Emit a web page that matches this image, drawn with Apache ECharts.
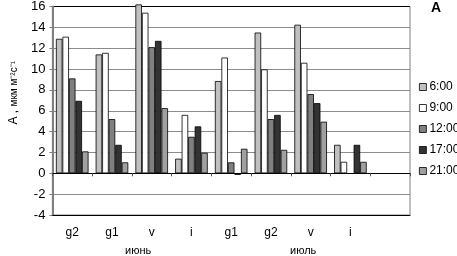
<!DOCTYPE html>
<html>
<head>
<meta charset="utf-8">
<script src="https://cdn.jsdelivr.net/npm/echarts@6/dist/echarts.min.js"></script>
<style>
  html, body { margin: 0; padding: 0; background: #fff; }
  #chart { width: 457px; height: 256px; }
</style>
</head>
<body>
<div id="chart"></div>
<script>
// категории (последняя пустая)
var categories = ['g2', 'g1', 'v', 'i', 'g1', 'g2', 'v', 'i', ''];
var seriesNames = ['6:00', '9:00', '12:00', '17:00', '21:00'];
var s0600 = [12.9, 11.4, 16.2, 1.4, 8.85, 13.5, 14.25, 2.73, null];
var s0900 = [13.1, 11.55, 15.4, 5.6, 11.1, 9.97, 10.6, 1.1, null];
var s1200 = [9.1, 5.2, 12.1, 3.5, 1.05, 5.2, 7.6, null, null];
var s1700 = [6.95, 2.73, 12.7, 4.5, -0.15, 5.6, 6.73, 2.73, null];
var s2100 = [2.1, 1.05, 6.25, 1.97, 2.35, 2.25, 4.95, 1.1, null];
var yTicks = [-4, 16, 2];
var months = ['июнь', 'июль'];

var colors = ['#c0c0c0', '#ffffff', '#808080', '#333333', '#a0a0a0'];
var allData = [s0600, s0900, s1200, s1700, s2100];

var chart = echarts.init(document.getElementById('chart'));

var series = seriesNames.map(function (name, i) {
  return {
    name: name,
    type: 'bar',
    clip: false,
    barGap: 0,
    barCategoryGap: '18%',
    itemStyle: { color: colors[i], borderColor: '#000', borderWidth: 0.8 },
    data: allData[i]
  };
});

// линии сетки: -4, 0 и 16 чёрные, остальные серые
var splitColors = [];
for (var v = yTicks[0]; v <= yTicks[1]; v += yTicks[2]) {
  splitColors.push((v === -4 || v === 0 || v === 16) ? '#000' : '#8c8c8c');
}

var option = {
  animation: false,
  color: colors,
  textStyle: { fontFamily: 'Liberation Sans, Arial, sans-serif' },
  grid: { left: 42, right: 47, top: 5, bottom: 41, show: true, borderColor: '#808080', borderWidth: 1 },
  legend: {
    orient: 'vertical',
    left: 414,
    top: 76,
    itemWidth: 7,
    itemHeight: 7,
    itemGap: 9,
    icon: 'rect',
    itemStyle: { borderColor: '#000', borderWidth: 0.8 },
    textStyle: { fontSize: 12, color: '#000', padding: [0, 0, 0, -2] },
    data: seriesNames
  },
  graphic: [
    { type: 'text', left: 431, top: 1, style: { text: 'A', font: 'bold 14px Liberation Sans, Arial', fill: '#000' } },
    { type: 'text', left: 125, top: 245, style: { text: months[0], font: '11px Liberation Sans, Arial', fill: '#000' } },
    { type: 'text', left: 290, top: 245, style: { text: months[1], font: '11px Liberation Sans, Arial', fill: '#000' } }
  ],
  xAxis: [{
    type: 'category',
    data: categories,
    axisLine: { onZero: true, lineStyle: { color: '#000', width: 1 } },
    axisTick: { show: true, length: 3, lineStyle: { color: '#555' } },
    axisLabel: { show: false },
    splitLine: { show: false }
  }, {
    type: 'category',
    position: 'bottom',
    data: categories,
    axisLine: { onZero: false, lineStyle: { color: '#000', width: 1 } },
    axisTick: { show: false },
    axisLabel: { margin: 12, fontSize: 12, color: '#000' }
  }],
  yAxis: {
    type: 'value',
    min: yTicks[0],
    max: yTicks[1],
    interval: yTicks[2],
    name: '{a|A , }{b|мкм м⁻²с⁻¹}',
    nameLocation: 'middle',
    nameGap: 30,
    nameTextStyle: {
      padding: [0, 0, 0, 36],
      rich: {
        a: { fontSize: 12, color: '#000' },
        b: { fontSize: 10, color: '#000' }
      }
    },
    axisLine: { show: true, lineStyle: { color: '#808080', width: 2 } },
    axisTick: { show: true, length: 3, lineStyle: { color: '#808080' } },
    axisLabel: { fontSize: 13, color: '#000', margin: 7 },
    splitLine: { lineStyle: { color: splitColors, width: 1 } }
  },
  series: series
};

chart.setOption(option);
</script>
</body>
</html>
